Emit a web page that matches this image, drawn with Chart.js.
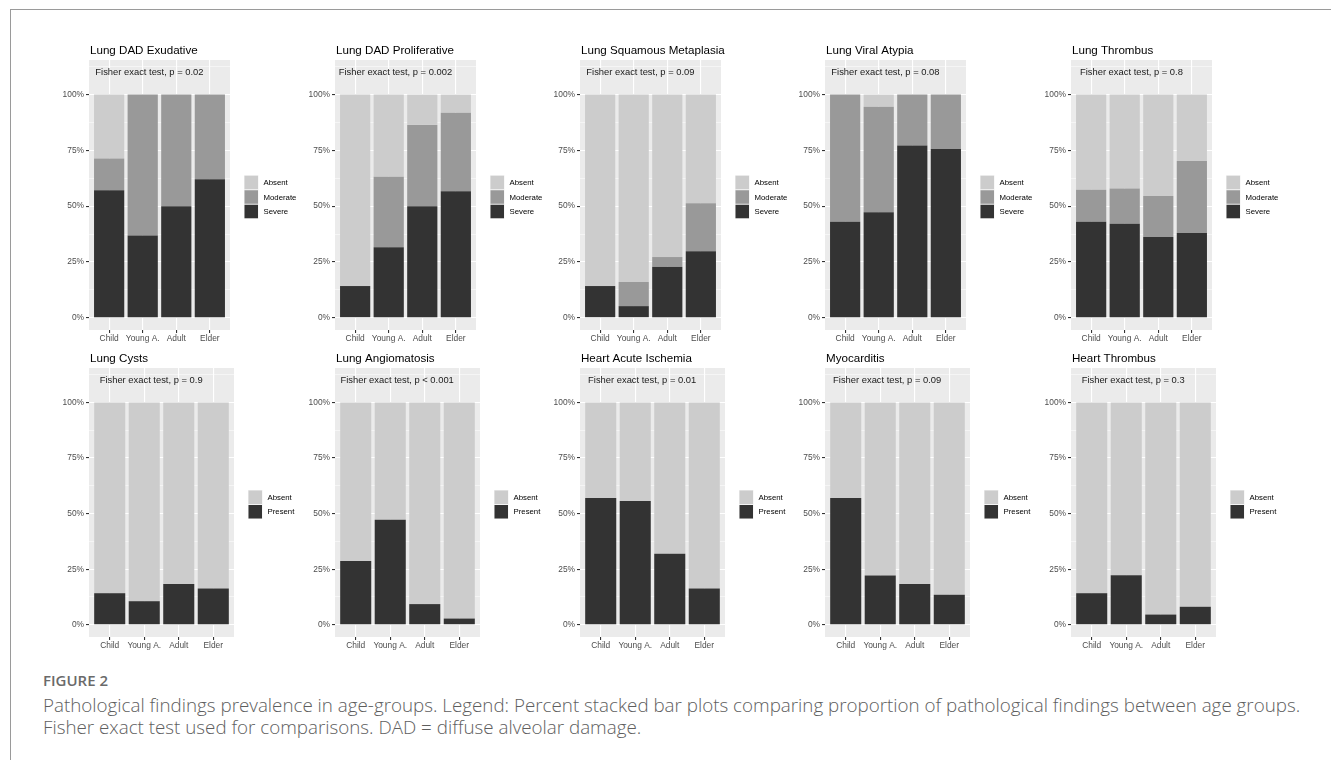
<!DOCTYPE html>
<html>
<head>
<meta charset="utf-8">
<script src="https://cdn.jsdelivr.net/npm/chart.js@4.4.1/dist/chart.umd.min.js"></script>
<style>
  body { margin: 0; background: #fff; width: 1331px; height: 760px; overflow: hidden; position: relative; }
  .frame { position: absolute; left: 10px; top: 9px; width: 1400px; height: 800px; border-left: 1px solid #9a9a9a; border-top: 1px solid #9a9a9a; }
  .panel { position: absolute; }
  .fig { position: absolute; left: 43px; top: 670px; font-family: 'Open Sans', sans-serif; font-weight: 600; font-size: 15px; color: #6a6a6a; }
  .cap { position: absolute; left: 43px; font-family: 'Open Sans', sans-serif; font-weight: 300; font-size: 18.8px; line-height: 22px; color: #5e5e5e; white-space: nowrap; }
  .l1 { top: 694px; }
  .l2 { top: 716px; }
</style>
</head>
<body>
<div class="frame"></div>
<div id="charts"></div>
<div class="fig">FIGURE 2</div>
<div class="cap l1">Pathological findings prevalence in age-groups. Legend: Percent stacked bar plots comparing proportion of pathological findings between age groups.</div>
<div class="cap l2">Fisher exact test used for comparisons. DAD = diffuse alveolar damage.</div>
<script>
// categories
const ageGroups = ['Child', 'Young A.', 'Adult', 'Elder'];
const gradeLevels = ['Absent', 'Moderate', 'Severe'];
const presenceLevels = ['Absent', 'Present'];
const yTicks = [0, 0.25, 0.5, 0.75, 1];

const titles = [
  'Lung DAD Exudative', 'Lung DAD Proliferative', 'Lung Squamous Metaplasia', 'Lung Viral Atypia', 'Lung Thrombus',
  'Lung Cysts', 'Lung Angiomatosis', 'Heart Acute Ischemia', 'Myocarditis', 'Heart Thrombus'
];
const testLabels = [
  'p = 0.02', 'p = 0.002', 'p = 0.09', 'p = 0.08', 'p = 0.8',
  'p = 0.9', 'p < 0.001', 'p = 0.01', 'p = 0.09', 'p = 0.3'
];

// proportions (Child, Young A., Adult, Elder)
const exudSevere = [0.571, 0.368, 0.500, 0.621];
const exudModerate = [0.143, 0.632, 0.500, 0.379];
const exudAbsent = [0.286, 0, 0, 0];

const prolifSevere = [0.142, 0.316, 0.500, 0.567];
const prolifModerate = [0, 0.316, 0.364, 0.352];
const prolifAbsent = [0.858, 0.368, 0.136, 0.081];

const squamSevere = [0.142, 0.052, 0.229, 0.298];
const squamModerate = [0, 0.108, 0.043, 0.215];
const squamAbsent = [0.858, 0.840, 0.728, 0.487];

const viralSevere = [0.430, 0.473, 0.772, 0.756];
const viralModerate = [0.570, 0.473, 0.228, 0.244];
const viralAbsent = [0, 0.054, 0, 0];

const lungThrSevere = [0.430, 0.421, 0.362, 0.380];
const lungThrModerate = [0.143, 0.158, 0.183, 0.322];
const lungThrAbsent = [0.427, 0.421, 0.455, 0.298];

const cystsPresent = [0.142, 0.106, 0.183, 0.163];
const cystsAbsent = [0.858, 0.894, 0.817, 0.837];

const angioPresent = [0.287, 0.472, 0.093, 0.028];
const angioAbsent = [0.713, 0.528, 0.907, 0.972];

const ischPresent = [0.570, 0.557, 0.319, 0.163];
const ischAbsent = [0.430, 0.443, 0.681, 0.837];

const myoPresent = [0.570, 0.222, 0.183, 0.135];
const myoAbsent = [0.430, 0.778, 0.817, 0.865];

const heartThrPresent = [0.142, 0.223, 0.046, 0.081];
const heartThrAbsent = [0.858, 0.777, 0.954, 0.919];

const levelColors = { Absent: '#cccccc', Moderate: '#999999', Severe: '#333333', Present: '#333333' };

// series listed bottom-up (stack order)
const panelSeries = [
  [exudSevere, exudModerate, exudAbsent],
  [prolifSevere, prolifModerate, prolifAbsent],
  [squamSevere, squamModerate, squamAbsent],
  [viralSevere, viralModerate, viralAbsent],
  [lungThrSevere, lungThrModerate, lungThrAbsent],
  [cystsPresent, cystsAbsent],
  [angioPresent, angioAbsent],
  [ischPresent, ischAbsent],
  [myoPresent, myoAbsent],
  [heartThrPresent, heartThrAbsent]
];

// layout
const colLefts = [89, 335, 580, 825, 1071];
const rows = [
  { top: 60, height: 270, width: 141 },
  { top: 368, height: 269, width: 145 }
];
const axisW = 34, padTop = 22, axisH = 20, padRight = 90;
const FONT = "'Liberation Sans', Arial, sans-serif";

const isMajor = v => yTicks.some(t => Math.abs(t - v) < 1e-6);

const ggPlugin = {
  id: 'gg',
  beforeDraw(chart) {
    const a = chart.chartArea, ctx = chart.ctx;
    ctx.save();
    ctx.fillStyle = '#ebebeb';
    ctx.fillRect(a.left, a.top, a.right - a.left, a.bottom - a.top);
    ctx.restore();
  },
  afterDraw(chart, args, opts) {
    const a = chart.chartArea, ctx = chart.ctx;
    const xs = chart.scales.x, ys = chart.scales.y;
    ctx.save();
    // title
    ctx.fillStyle = '#000';
    ctx.font = '11.6px ' + FONT;
    ctx.textBaseline = 'alphabetic';
    ctx.textAlign = 'left';
    ctx.fillText(opts.title, a.left + 1, a.top - 6);
    // test annotation
    ctx.font = '9.4px ' + FONT;
    ctx.fillStyle = '#1a1a1a';
    ctx.textAlign = 'center';
    ctx.textBaseline = 'middle';
    ctx.fillText('Fisher exact test, ' + opts.p, xs.getPixelForValue(2.2), ys.getPixelForValue(1.1));
    // legend (top level first)
    const levels = opts.levels;
    const key = 14.5;
    const kx = a.right + 14;
    let ky = (a.top + a.bottom) / 2 + 2 - levels.length * key / 2;
    ctx.textAlign = 'left';
    ctx.font = '7.8px ' + FONT;
    levels.forEach(l => {
      ctx.fillStyle = '#f2f2f2';
      ctx.fillRect(kx, ky, key, key);
      ctx.fillStyle = levelColors[l];
      ctx.fillRect(kx + 0.5, ky + 0.5, key - 1, key - 1);
      ctx.fillStyle = '#000';
      ctx.fillText(l, kx + key + 5, ky + key / 2 + 0.5);
      ky += key;
    });
    ctx.restore();
  }
};

const holder = document.getElementById('charts');
titles.forEach((title, i) => {
  const row = rows[Math.floor(i / 5)];
  const left = colLefts[i % 5];
  const levels = panelSeries[i].length === 3 ? gradeLevels : presenceLevels;
  const stackLevels = levels.slice().reverse();
  const div = document.createElement('div');
  div.className = 'panel';
  const w = axisW + row.width + padRight, h = padTop + row.height + axisH;
  div.style.left = (left - axisW) + 'px';
  div.style.top = (row.top - padTop) + 'px';
  div.style.width = w + 'px';
  div.style.height = h + 'px';
  const canvas = document.createElement('canvas');
  canvas.width = w; canvas.height = h;
  div.appendChild(canvas);
  holder.appendChild(div);

  new Chart(canvas, {
    type: 'bar',
    data: {
      datasets: panelSeries[i].map((vals, k) => ({
        label: stackLevels[k],
        data: vals.map((v, j) => ({ x: j + 1, y: v })),
        backgroundColor: levelColors[stackLevels[k]],
        borderWidth: 0,
        barPercentage: 0.9,
        categoryPercentage: 1.0
      }))
    },
    options: {
      responsive: false,
      animation: false,
      devicePixelRatio: 1,
      layout: { padding: { left: 0, right: padRight, top: padTop, bottom: 0 } },
      plugins: {
        legend: { display: false },
        tooltip: { enabled: false },
        gg: { title: title, p: testLabels[i], levels: levels }
      },
      scales: {
        x: {
          type: 'linear', min: 0.4, max: 4.6, stacked: true, offset: false,
          afterBuildTicks: s => { s.ticks = ageGroups.map((_, j) => ({ value: j + 1 })); },
          afterFit: s => { s.height = axisH; },
          border: { display: false },
          grid: { offset: false, color: '#ffffff', lineWidth: 1.1, tickLength: 3, tickColor: '#333333' },
          ticks: {
            callback: v => ageGroups[Math.round(v) - 1],
            color: '#4d4d4d', font: { family: FONT, size: 8.4 }, padding: 1,
            maxRotation: 0, autoSkip: false
          }
        },
        y: {
          min: -0.055, max: 1.155, stacked: true,
          afterBuildTicks: s => {
            const t = [];
            for (let v = 0; v <= 1.13; v += 0.125) t.push({ value: Math.round(v * 1000) / 1000 });
            s.ticks = t;
          },
          afterFit: s => { s.width = axisW; },
          border: { display: false },
          grid: {
            color: '#ffffff',
            lineWidth: c => (c.tick && isMajor(c.tick.value)) ? 1.1 : 0.5,
            tickLength: 3,
            tickColor: c => (c.tick && isMajor(c.tick.value)) ? '#333333' : 'rgba(0,0,0,0)'
          },
          ticks: {
            callback: v => isMajor(v) ? Math.round(v * 100) + '%' : '',
            color: '#4d4d4d', font: { family: FONT, size: 8.4 }, padding: 2,
            autoSkip: false
          }
        }
      }
    },
    plugins: [ggPlugin]
  });
});
</script>
</body>
</html>
